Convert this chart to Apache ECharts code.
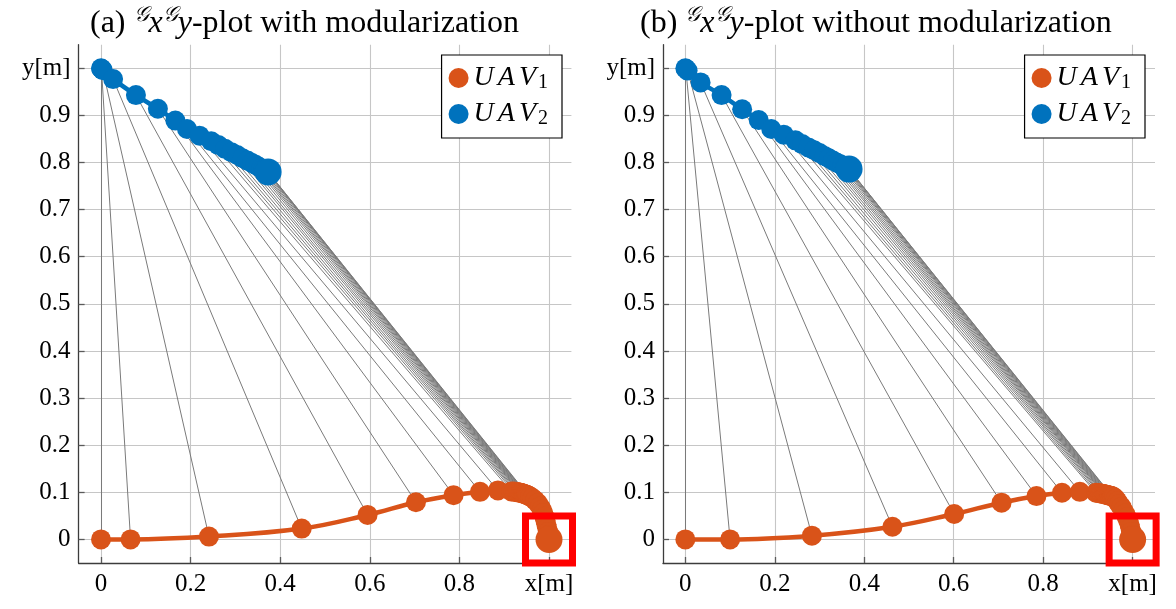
<!DOCTYPE html>
<html>
<head>
<meta charset="utf-8">
<script src="https://cdn.jsdelivr.net/npm/echarts@6/dist/echarts.min.js"></script>
<style>
  html, body { margin: 0; padding: 0; background: #fff; }
  #chart { width: 1176px; height: 609px; }
</style>
</head>
<body>
<div id="chart"></div>
<script>
// Panel (a): trajectories with modularization
const uav1XA = [0, 0.066, 0.241, 0.448, 0.595, 0.703, 0.787, 0.846, 0.886, 0.916,
  0.921, 0.925, 0.928, 0.931, 0.934, 0.936, 0.938, 0.940, 0.942, 0.944, 0.946, 0.948, 0.950, 0.952, 0.954,
  0.958, 0.963, 0.969, 0.975, 0.980, 0.984, 0.987, 0.990, 0.992, 0.994, 0.996, 0.998, 0.999, 1.0, 1.0];
const uav1YA = [0, 0, 0.006, 0.023, 0.052, 0.079, 0.094, 0.101, 0.104, 0.102,
  0.1015, 0.101, 0.1005, 0.100, 0.0995, 0.099, 0.0985, 0.098, 0.0975, 0.097, 0.096, 0.0955, 0.095, 0.094, 0.093,
  0.091, 0.088, 0.083, 0.077, 0.070, 0.063, 0.056, 0.048, 0.040, 0.032, 0.024, 0.016, 0.009, 0.003, 0];
const uav2XA = [0, 0.001, 0.004, 0.027, 0.078, 0.127, 0.166, 0.192, 0.220, 0.246,
  0.262, 0.277, 0.291, 0.304, 0.316, 0.327, 0.337, 0.345, 0.352, 0.358, 0.363, 0.367, 0.370, 0.372, 0.373];
const uav2YA = [1, 0.999, 0.996, 0.977, 0.943, 0.914, 0.889, 0.871, 0.857, 0.845,
  0.837, 0.829, 0.822, 0.816, 0.809, 0.804, 0.799, 0.795, 0.791, 0.788, 0.786, 0.784, 0.782, 0.781, 0.780];

// Panel (b): trajectories without modularization
const uav1XB = [0, 0.100, 0.283, 0.463, 0.601, 0.707, 0.785, 0.842, 0.882, 0.918,
  0.922, 0.926, 0.929, 0.932, 0.935, 0.937, 0.939, 0.941, 0.943, 0.945, 0.947, 0.949, 0.951, 0.953, 0.955,
  0.958, 0.962, 0.966, 0.970, 0.975, 0.979, 0.983, 0.987, 0.990, 0.993, 0.995, 0.997, 0.999, 1.0, 1.0];
const uav1YB = [0, 0, 0.008, 0.027, 0.054, 0.078, 0.092, 0.099, 0.101, 0.099,
  0.0985, 0.098, 0.0975, 0.097, 0.0965, 0.096, 0.0955, 0.095, 0.0945, 0.094, 0.0935, 0.093, 0.0925, 0.092, 0.091,
  0.090, 0.086, 0.081, 0.075, 0.069, 0.062, 0.055, 0.047, 0.040, 0.032, 0.024, 0.016, 0.009, 0.003, 0];
const uav2XB = [0, 0.001, 0.005, 0.034, 0.081, 0.127, 0.164, 0.192, 0.220, 0.246,
  0.261, 0.275, 0.288, 0.300, 0.311, 0.321, 0.330, 0.338, 0.345, 0.351, 0.356, 0.360, 0.363, 0.365, 0.366];
const uav2YB = [1, 0.999, 0.995, 0.970, 0.943, 0.913, 0.890, 0.871, 0.859, 0.847,
  0.839, 0.832, 0.826, 0.820, 0.814, 0.809, 0.804, 0.800, 0.797, 0.794, 0.791, 0.789, 0.788, 0.787, 0.786];

// Axis ticks and their labels
const xTicks = [0, 0.2, 0.4, 0.6, 0.8, 1];
const xTickLabels = ['0', '0.2', '0.4', '0.6', '0.8', 'x[m]'];
const yTicks = [0, 0.1, 0.2, 0.3, 0.4, 0.5, 0.6, 0.7, 0.8, 0.9, 1];
const yTickLabels = ['0', '0.1', '0.2', '0.3', '0.4', '0.5', '0.6', '0.7', '0.8', '0.9', 'y[m]'];

const seriesNames = ['UAV1', 'UAV2'];
const panelTitles = [
  ['(a) ', '-plot with modularization'],
  ['(b) ', '-plot without modularization']
];

const ORANGE = '#D95319';
const BLUE = '#0072BD';
const SERIF = "'Liberation Serif', 'DejaVu Serif', serif";

const chart = echarts.init(document.getElementById('chart'), null, { renderer: 'canvas' });

const zip = (xs, ys) => xs.map((x, i) => [x, ys[i]]);

function labelFor(ticks, labels) {
  return v => {
    const i = ticks.findIndex(t => Math.abs(t - v) < 1e-9);
    return i >= 0 ? labels[i] : '';
  };
}

function axisCommon() {
  return {
    type: 'value',
    min: -0.05,
    max: 1.05,
    axisLine: { onZero: false, lineStyle: { color: '#3c3c3c', width: 1.3 } },
    axisTick: { inside: true, length: 6, lineStyle: { color: '#5a5a5a', width: 1.3 } },
    splitLine: { show: true, lineStyle: { color: '#c6c6c6', width: 1.1 } },
    axisLabel: { fontFamily: SERIF, fontSize: 25, color: '#000' }
  };
}

const panels = [
  { u1x: uav1XA, u1y: uav1YA, u2x: uav2XA, u2y: uav2YA, grid: { left: 78.6, top: 44.7, width: 492.8, height: 518.3 }, legendRight: 614, titleLeft: 85 },
  { u1x: uav1XB, u1y: uav1YB, u2x: uav2XB, u2y: uav2YB, grid: { left: 663, top: 44.7, width: 492, height: 518.3 }, legendRight: 31, titleLeft: 635 }
];

const grids = [], xAxes = [], yAxes = [], series = [], legends = [], titles = [];

const legendRich = {
  u: { fontFamily: SERIF, fontStyle: 'italic', fontSize: 28, lineHeight: 30, color: '#000', padding: [0, 4, 0, 0] },
  v: { fontFamily: SERIF, fontStyle: 'italic', fontSize: 28, lineHeight: 30, color: '#000', padding: [0, 2, 0, 0] },
  s: { fontFamily: SERIF, fontSize: 20, lineHeight: 13, verticalAlign: 'bottom', color: '#000' }
};

const titleRich = {
  n: { fontFamily: SERIF, fontWeight: 'normal', fontSize: 32, lineHeight: 37, color: '#000' },
  i: { fontFamily: SERIF, fontWeight: 'normal', fontStyle: 'italic', fontSize: 32, lineHeight: 37, color: '#000' },
  g: { fontFamily: SERIF, fontWeight: 'normal', fontStyle: 'italic', fontSize: 21, lineHeight: 23, verticalAlign: 'top', color: '#000' }
};

panels.forEach((p, k) => {
  grids.push(Object.assign({ containLabel: false }, p.grid));

  const xa = axisCommon();
  xa.gridIndex = k;
  xa.axisTick.customValues = xTicks;
  xa.axisLabel.customValues = xTicks;
  xa.axisLabel.formatter = labelFor(xTicks, xTickLabels);
  xa.axisLabel.margin = 9;
  xAxes.push(xa);

  const ya = axisCommon();
  ya.gridIndex = k;
  ya.axisTick.customValues = yTicks;
  ya.axisLabel.customValues = yTicks;
  ya.axisLabel.formatter = labelFor(yTicks, yTickLabels);
  ya.axisLabel.margin = 8;
  yAxes.push(ya);

  const uav1 = zip(p.u1x, p.u1y);
  const uav2 = zip(p.u2x, p.u2y);

  // formation links between the two UAVs at each common sample
  series.push({
    type: 'lines',
    coordinateSystem: 'cartesian2d',
    xAxisIndex: k, yAxisIndex: k,
    silent: true,
    z: 1,
    lineStyle: { color: '#7a7a7a', width: 1, opacity: 1 },
    data: uav2.map((b, i) => ({ coords: [uav1[i], b] }))
  });

  [[uav1, ORANGE], [uav2, BLUE]].forEach(([data, color], s) => {
    const last = data.length - 1;
    series.push({
      name: seriesNames[s],
      type: 'line',
      xAxisIndex: k, yAxisIndex: k,
      data: data,
      smooth: 0.4,
      symbol: 'circle',
      symbolSize: (v, prm) => (prm.dataIndex === last ? 27 : 20),
      showAllSymbol: true,
      z: 3 + s,
      lineStyle: { color: color, width: 4.5 },
      itemStyle: { color: color, opacity: 1 },
      emphasis: { disabled: true },
      animation: false
    });
  });

  // highlight box around the final UAV1 position
  series.push({
    type: 'scatter',
    xAxisIndex: k, yAxisIndex: k,
    data: [uav1[uav1.length - 1]],
    symbol: 'rect',
    symbolSize: 47,
    clip: false,
    silent: true,
    z: 10,
    itemStyle: { color: 'rgba(0,0,0,0)', borderColor: '#ff0000', borderWidth: 7, opacity: 1 },
    emphasis: { disabled: true }
  });

  legends.push({
    orient: 'vertical',
    right: p.legendRight,
    top: 55,
    data: seriesNames,
    icon: 'circle',
    itemWidth: 20,
    itemHeight: 20,
    itemGap: 7,
    padding: [9, 14, 9, 7],
    borderColor: '#000',
    borderWidth: 1.2,
    backgroundColor: '#fff',
    selectedMode: false,
    formatter: name => '{u|U}{u|A}{v|V}{s|' + name.slice(3) + '}',
    textStyle: { rich: legendRich }
  });

  titles.push({
    left: p.titleLeft,
    top: 0,
    text: '{n|' + panelTitles[k][0] + '}{g|\u{1D4A2}}{i|x}{g|\u{1D4A2}}{i|y}{n|' + panelTitles[k][1] + '}',
    textStyle: { fontWeight: 'normal', rich: titleRich }
  });
});

chart.setOption({
  animation: false,
  title: titles,
  grid: grids,
  xAxis: xAxes,
  yAxis: yAxes,
  legend: legends,
  series: series
});
</script>
</body>
</html>
